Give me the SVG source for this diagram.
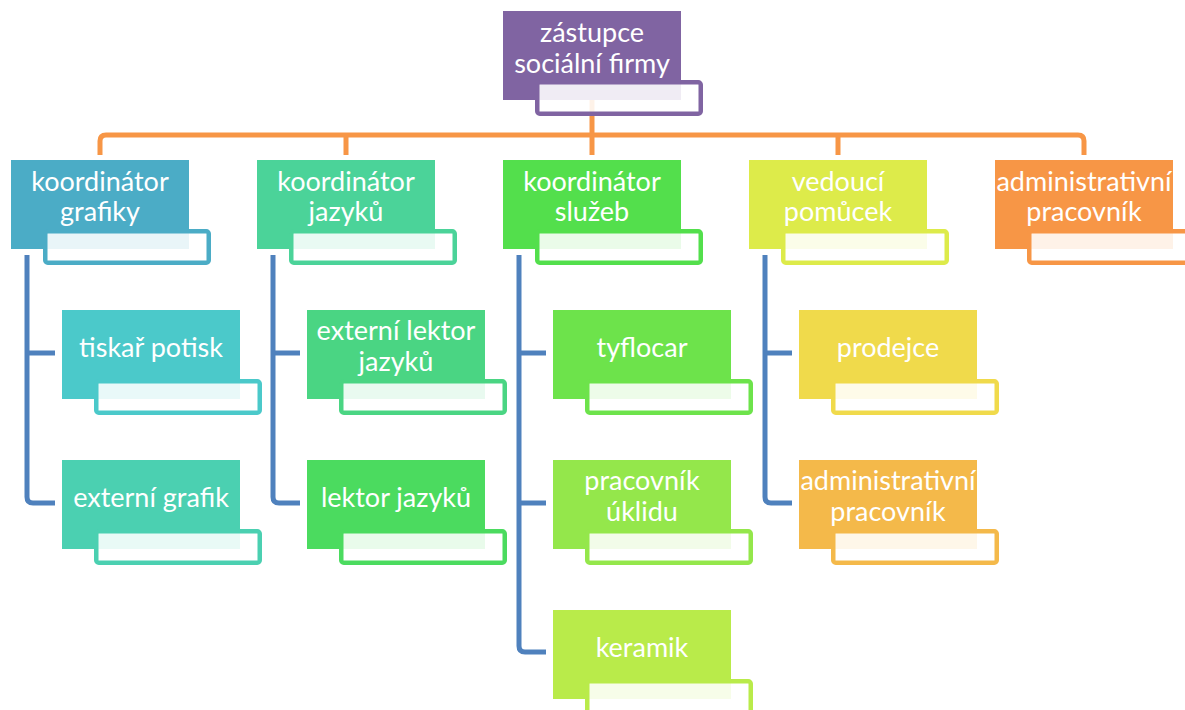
<svg xmlns="http://www.w3.org/2000/svg" width="1185" height="710" viewBox="0 0 1185 710">
<style>
.bg{fill:#fff}
.tag{fill:#fff;fill-opacity:.88;stroke-width:4.5}
.lbl{font-family:Lato,"Open Sans","Liberation Sans",sans-serif;font-size:27px;fill:#fff;text-anchor:middle}
.org{fill:none;stroke:#F79646;stroke-width:5;stroke-linejoin:round}
.blu{fill:none;stroke:#4F81BD;stroke-width:5;stroke-linejoin:round}
</style>
<rect class="bg" width="1185" height="710"/>
<g id="connectors">
<path class="org" d="M100 155 V141 Q100 135 106 135 H1078 Q1084 135 1084 141 V155"/>
<path class="org" d="M346 135 V155 M592 100 V155 M838 135 V155"/>
<path class="blu" d="M27 255 V497 Q27 503 33 503 H55 M27 353 H55"/>
<path class="blu" d="M273 255 V497 Q273 503 279 503 H300 M273 353 H300"/>
<path class="blu" d="M519 255 V646 Q519 652 525 652 H546 M519 353 H546 M519 503 H546"/>
<path class="blu" d="M765 255 V497 Q765 503 771 503 H792 M765 353 H792"/>
</g>
<g id="n-zastupce">
<rect x="503" y="11" width="178" height="89" fill="#8064A2"/>
<rect class="tag" x="537.25" y="82.25" width="163.5" height="31.5" rx="2.5" stroke="#8064A2"/>
<text class="lbl" x="592" y="42">zástupce</text>
<text class="lbl" x="592" y="73">sociální firmy</text>
</g>
<g id="n-koord-grafiky">
<rect x="11" y="160" width="178" height="89" fill="#4BACC6"/>
<rect class="tag" x="45.25" y="231.25" width="163.5" height="31.5" rx="2.5" stroke="#4BACC6"/>
<text class="lbl" x="100" y="191">koordinátor</text>
<text class="lbl" x="100" y="221">grafiky</text>
</g>
<g id="n-koord-jazyku">
<rect x="257" y="160" width="178" height="89" fill="#4BD399"/>
<rect class="tag" x="291.25" y="231.25" width="163.5" height="31.5" rx="2.5" stroke="#4BD399"/>
<text class="lbl" x="346" y="191">koordinátor</text>
<text class="lbl" x="346" y="221">jazyků</text>
</g>
<g id="n-koord-sluzeb">
<rect x="503" y="160" width="178" height="89" fill="#53DF4C"/>
<rect class="tag" x="537.25" y="231.25" width="163.5" height="31.5" rx="2.5" stroke="#53DF4C"/>
<text class="lbl" x="592" y="191">koordinátor</text>
<text class="lbl" x="592" y="221">služeb</text>
</g>
<g id="n-vedouci">
<rect x="749" y="160" width="178" height="89" fill="#DDEB4A"/>
<rect class="tag" x="783.25" y="231.25" width="163.5" height="31.5" rx="2.5" stroke="#DDEB4A"/>
<text class="lbl" x="838" y="191">vedoucí</text>
<text class="lbl" x="838" y="221">pomůcek</text>
</g>
<g id="n-admin">
<rect x="995" y="160" width="178" height="89" fill="#F79646"/>
<rect class="tag" x="1029.25" y="231.25" width="163.5" height="31.5" rx="2.5" stroke="#F79646"/>
<text class="lbl" x="1084" y="191">administrativní</text>
<text class="lbl" x="1084" y="221">pracovník</text>
</g>
<g id="n-tiskar">
<rect x="62" y="310" width="178" height="89" fill="#4BC9CA"/>
<rect class="tag" x="96.25" y="381.25" width="163.5" height="31.5" rx="2.5" stroke="#4BC9CA"/>
<text class="lbl" x="151" y="357">tiskař potisk</text>
</g>
<g id="n-ext-grafik">
<rect x="62" y="460" width="178" height="89" fill="#4BD0B1"/>
<rect class="tag" x="96.25" y="531.25" width="163.5" height="31.5" rx="2.5" stroke="#4BD0B1"/>
<text class="lbl" x="151" y="507">externí grafik</text>
</g>
<g id="n-ext-lektor">
<rect x="307" y="310" width="178" height="89" fill="#4AD583"/>
<rect class="tag" x="341.25" y="381.25" width="163.5" height="31.5" rx="2.5" stroke="#4AD583"/>
<text class="lbl" x="396" y="340">externí lektor</text>
<text class="lbl" x="396" y="371">jazyků</text>
</g>
<g id="n-lektor">
<rect x="307" y="460" width="178" height="89" fill="#4BDB5F"/>
<rect class="tag" x="341.25" y="531.25" width="163.5" height="31.5" rx="2.5" stroke="#4BDB5F"/>
<text class="lbl" x="396" y="507">lektor jazyků</text>
</g>
<g id="n-tyflocar">
<rect x="553" y="310" width="178" height="89" fill="#6DE34B"/>
<rect class="tag" x="587.25" y="381.25" width="163.5" height="31.5" rx="2.5" stroke="#6DE34B"/>
<text class="lbl" x="642" y="357">tyflocar</text>
</g>
<g id="n-uklid">
<rect x="553" y="460" width="178" height="89" fill="#94E74B"/>
<rect class="tag" x="587.25" y="531.25" width="163.5" height="31.5" rx="2.5" stroke="#94E74B"/>
<text class="lbl" x="642" y="490">pracovník</text>
<text class="lbl" x="642" y="521">úklidu</text>
</g>
<g id="n-keramik">
<rect x="553" y="610" width="178" height="89" fill="#B9EB4A"/>
<rect class="tag" x="587.25" y="681.25" width="163.5" height="31.5" rx="2.5" stroke="#B9EB4A"/>
<text class="lbl" x="642" y="657">keramik</text>
</g>
<g id="n-prodejce">
<rect x="799" y="310" width="178" height="89" fill="#F0DA4B"/>
<rect class="tag" x="833.25" y="381.25" width="163.5" height="31.5" rx="2.5" stroke="#F0DA4B"/>
<text class="lbl" x="888" y="357">prodejce</text>
</g>
<g id="n-admin2">
<rect x="799" y="460" width="178" height="89" fill="#F4B94A"/>
<rect class="tag" x="833.25" y="531.25" width="163.5" height="31.5" rx="2.5" stroke="#F4B94A"/>
<text class="lbl" x="888" y="490">administrativní</text>
<text class="lbl" x="888" y="521">pracovník</text>
</g>
</svg>
